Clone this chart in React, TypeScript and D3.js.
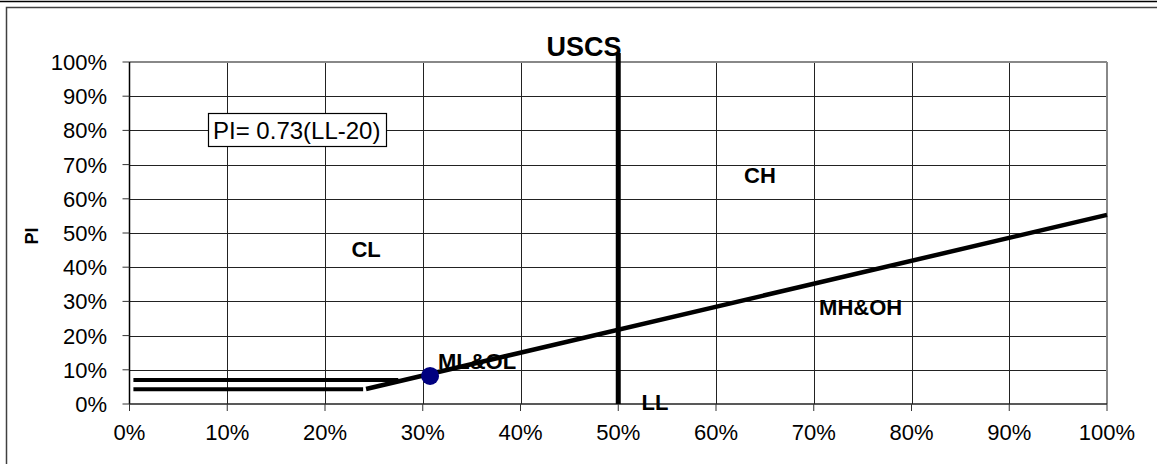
import * as d3 from 'd3';

const W = 1157;
const H = 464;

// tick values (fractions of 1)
const xTicks = [0, 0.1, 0.2, 0.3, 0.4, 0.5, 0.6, 0.7, 0.8, 0.9, 1.0];
const yTicks = [0, 0.1, 0.2, 0.3, 0.4, 0.5, 0.6, 0.7, 0.8, 0.9, 1.0];

// chart lines [LL, PI]
const aLine: [number, number][] = [[0.242, 0.044], [1.0, 0.553]];
const upperLine: [number, number][] = [[0.004, 0.07], [0.275, 0.07]];
const lowerLine: [number, number][] = [[0.004, 0.043], [0.239, 0.043]];
const llLine: [number, number][] = [[0.5, 0], [0.5, 1.026]];

// the sample point
const samples: [number, number][] = [[0.3075, 0.082]];

// zone labels
const zoneNames = ['CL', 'CH', 'MH&OH', 'ML&OL', 'LL'];
const zoneLL = [0.242, 0.645, 0.748, 0.3555, 0.5375];
const zonePI = [0.43, 0.646, 0.26, 0.102, -0.0175];

const FONT = '"Liberation Sans", Arial, sans-serif';

export default function App() {
  const x = d3.scaleLinear().domain([0, 1]).range([129.5, 1107]);
  const y = d3.scaleLinear().domain([0, 1]).range([404, 62]);
  const line = d3.line<[number, number]>().x(d => x(d[0])).y(d => y(d[1]));
  const pct = d3.format('.0%');

  return (
    <svg width={W} height={H} style={{ position: 'absolute', left: 0, top: 0, background: '#fff' }} fontFamily={FONT}>
      {/* outer frame */}
      <line x1={0} x2={W} y1={1.5} y2={1.5} stroke="#000" strokeWidth={1.5} />
      <rect x={6.5} y={7.5} width={W + 20} height={H + 20} fill="none" stroke="#404040" strokeWidth={1.5} />

      {/* grid */}
      {xTicks.slice(1, -1).map(t => (
        <line key={'gx' + t} x1={Math.round(x(t)) + 0.5} x2={Math.round(x(t)) + 0.5} y1={y(1)} y2={y(0)} stroke="#222" strokeWidth={1} />
      ))}
      {yTicks.slice(1, -1).map(t => (
        <line key={'gy' + t} x1={x(0)} x2={x(1)} y1={Math.round(y(t)) + 0.5} y2={Math.round(y(t)) + 0.5} stroke="#222" strokeWidth={1} />
      ))}
      {/* plot border */}
      <line x1={x(0)} x2={x(1)} y1={y(1)} y2={y(1)} stroke="#888" strokeWidth={2} />
      <line x1={x(1)} x2={x(1)} y1={y(1)} y2={y(0)} stroke="#888" strokeWidth={2} />
      <line x1={x(0)} x2={x(0)} y1={y(1)} y2={y(0)} stroke="#000" strokeWidth={1.5} />
      <line x1={x(0)} x2={x(1)} y1={y(0)} y2={y(0)} stroke="#222" strokeWidth={1.5} />

      {/* ticks and labels */}
      {xTicks.map(t => (
        <g key={'tx' + t}>
          <line x1={x(t)} x2={x(t)} y1={y(0)} y2={y(0) + 7} stroke="#333" strokeWidth={1} />
          <text x={x(t)} y={440} textAnchor="middle" fontSize={22} fill="#000">{pct(t)}</text>
        </g>
      ))}
      {yTicks.map(t => (
        <g key={'ty' + t}>
          <line x1={x(0) - 7} x2={x(0)} y1={y(t)} y2={y(t)} stroke="#333" strokeWidth={1} />
          <text x={107} y={y(t) + 8} textAnchor="end" fontSize={22} fill="#000">{pct(t)}</text>
        </g>
      ))}

      {/* axis title */}
      <text transform="translate(38,236) rotate(-90)" textAnchor="middle" fontSize={18} fontWeight="bold">PI</text>

      {/* equation box */}
      <g>
        <rect x={208.5} y={113.5} width={178} height={33} fill="#fff" stroke="#000" strokeWidth={1.2} />
        <text x={213} y={139} fontSize={24} fill="#000">PI= 0.73(LL-20)</text>
      </g>

      {/* lines */}
      <path d={line(upperLine) || ''} fill="none" stroke="#000" strokeWidth={4} />
      <path d={line(lowerLine) || ''} fill="none" stroke="#000" strokeWidth={4} />
      <path d={line(aLine) || ''} fill="none" stroke="#000" strokeWidth={4.5} />
      <path d={line(llLine) || ''} fill="none" stroke="#000" strokeWidth={5} />

      {/* title */}
      <text x={x(0.465)} y={y(1.0175)} textAnchor="middle" fontSize={27} fontWeight="bold">USCS</text>

      {/* zone labels */}
      {zoneNames.map((n, i) => (
        <text key={n} x={x(zoneLL[i])} y={y(zonePI[i])} textAnchor="middle" fontSize={22} fontWeight="bold">{n}</text>
      ))}

      {/* sample */}
      {samples.map((s, i) => (
        <circle key={i} cx={x(s[0])} cy={y(s[1])} r={9} fill="#000080" />
      ))}
    </svg>
  );
}
